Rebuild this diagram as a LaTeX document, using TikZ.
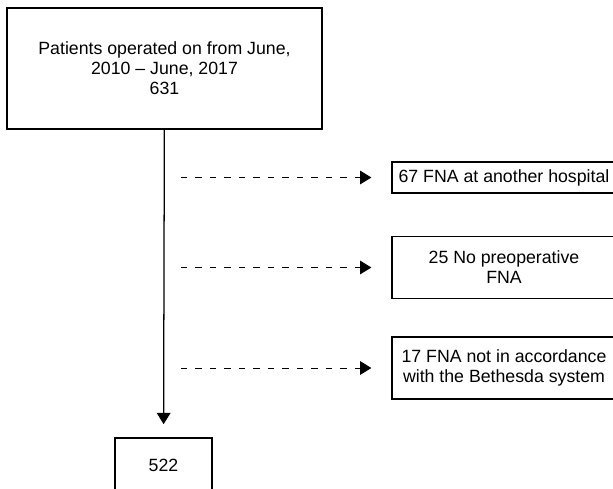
\documentclass[tikz,border=0pt]{standalone}
\usepackage{fontspec}
\setmainfont{Liberation Sans}
\usetikzlibrary{arrows.meta}
\usetikzlibrary{positioning}
\tikzset{box/.style = {draw, line width=0.9pt, align=center, inner sep=0pt,
                       font=\fontsize{12.6}{14.3}\selectfont},
         solidarrow/.style = {line width=0.9pt,
                              -{Triangle[length=0.28cm, width=0.34cm]}},
         dasharrow/.style = {line width=0.7pt, dash pattern=on 4.5pt off 5.8pt,
                             -{Triangle[length=0.28cm, width=0.34cm]},
                             shorten >=0.5cm}}

\begin{document}
\begin{tikzpicture}[x=0.025cm, y=-0.025cm]
      \useasboundingbox (0, 0) rectangle (613, 488);

      \node [box, minimum width=7.875cm, minimum height=3.025cm] (patients) at (164.5, 68.5)
            {Patients operated on from June,\\2010 -- June, 2017\\631};
      \node [box, minimum width=2.425cm, minimum height=1.375cm] (final) at (163.5, 465.5) {522};

      \node [box, minimum width=5.6cm, minimum height=0.775cm] (other) at (504, 177.5)
            {67 FNA at another hospital};
      \node [box, minimum width=5.6cm, minimum height=1.55cm] (nofna) at (504, 267.5)
            {25 No preoperative\\FNA};
      \node [box, minimum width=5.6cm, minimum height=1.55cm] (bethesda) at (504, 368)
            {17 FNA not in accordance\\with the Bethesda system};

      \draw [solidarrow, shorten >=0.33cm] (patients) -- (final);

      % excluded patients
      \foreach \n in {other, nofna, bethesda} {
        \coordinate (s-\n) at (181, 0 |- \n);
        \draw [dasharrow] (s-\n) -- (\n);
      }
    \end{tikzpicture}
\end{document}
